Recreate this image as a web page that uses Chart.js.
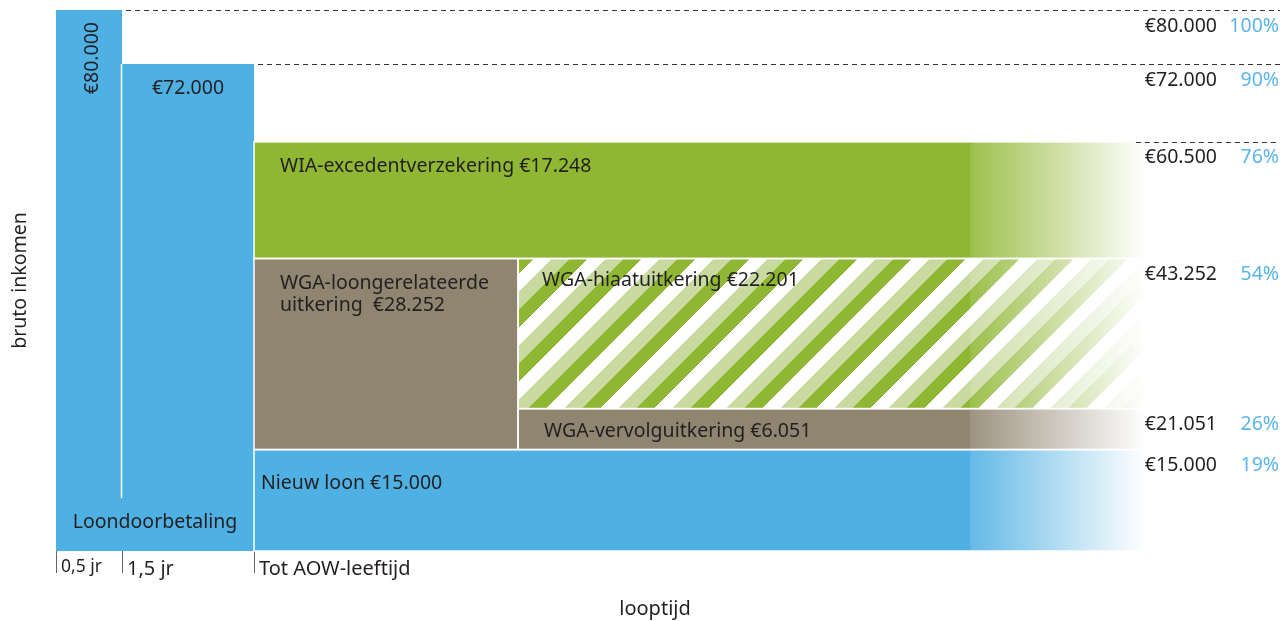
<!DOCTYPE html>
<html lang="nl">
<head>
<meta charset="utf-8">
<title>Bruto inkomen bij arbeidsongeschiktheid</title>
<script src="https://cdn.jsdelivr.net/npm/chart.js@4.4.1/dist/chart.umd.min.js"></script>
<style>
  html, body { margin: 0; padding: 0; background: #fff; }
  #wrap { width: 1283px; height: 621px; position: relative; }
</style>
</head>
<body>
<div id="wrap"><canvas id="incomeChart"></canvas></div>
<script>
// periods on the x axis (schematic, not to scale)
const periodLabels = ['0,5 jr', '1,5 jr', 'Tot AOW-leeftijd'];
const periodStart = [0, 1, 3];
const groupLabel = 'Loondoorbetaling';

// income blocks
const blockNames  = ['', '', 'Nieuw loon', 'WGA-loongerelateerde\nuitkering ', 'WGA-vervolguitkering', 'WGA-hiaatuitkering', 'WIA-excedentverzekering'];
const blockAmount = [80000, 72000, 15000, 28252, 6051, 22201, 17248];
const blockFrom   = [0, 1, 3, 3, 7, 7, 3];
const blockTo     = [1, 3, 16.5, 7, 16.5, 16.5, 16.5];
const blockLow    = [0, 0, 0, 15000, 15000, 21051, 43252];
const blockHigh   = [80000, 72000, 15000, 43252, 21051, 43252, 60500];

// levels listed on the right
const levelValues  = [80000, 72000, 60500, 43252, 21051, 15000];
const levelPercent = [100, 90, 76, 54, 26, 19];

// styling
const BLUE = '#4FB0E3', GREEN = '#8FB733', BROWN = '#908570', LIGHT = '#C8DA9F';
const TEXT = '#231F20', PCT = '#5BB5E8';
const FONT = '"Noto Sans", sans-serif';
const LABEL_FONT = '19.5px ' + FONT;
const fadeFrom = 13.85, fadeTo = 16.5, xMax = 18.15;
const dashFrom = [1, 3, 16.3];   // where the dashed guide of levelValues[i] starts

const canvas = document.getElementById('incomeChart');

function makeHatch() {
    const P = 54, c = document.createElement('canvas');
    c.width = P; c.height = P;
    const g = c.getContext('2d');
    const img = g.createImageData(P, P);
    const bands = [[200, 218, 159], [143, 183, 51], [255, 255, 255]];
    for (let y = 0; y < P; y++) {
        for (let x = 0; x < P; x++) {
            const b = bands[Math.floor(((x + y) % P) / (P / 3))];
            const k = (y * P + x) * 4;
            img.data[k] = b[0]; img.data[k + 1] = b[1]; img.data[k + 2] = b[2]; img.data[k + 3] = 255;
        }
    }
    g.putImageData(img, 0, 0);
    return canvas.getContext('2d').createPattern(c, 'repeat');
}
const blockFill = [BLUE, BLUE, BLUE, BROWN, BROWN, makeHatch(), GREEN];

function euro(n) {
    return '€' + String(n).replace(/\B(?=(\d{3})+(?!\d))/g, '.');
}

const overlayPlugin = {
    id: 'overlay',
    afterDatasetsDraw(chart) {
        const {ctx, chartArea: area, scales: {x, y}} = chart;
        const W = chart.width;
        ctx.save();

        // white separators between the blocks
        ctx.strokeStyle = '#ffffff';
        ctx.lineWidth = 1.5;
        for (let i = 2; i < blockNames.length; i++) {
            const l = x.getPixelForValue(blockFrom[i]), r = x.getPixelForValue(blockTo[i]);
            const t = y.getPixelForValue(blockHigh[i]), b = y.getPixelForValue(blockLow[i]);
            ctx.strokeRect(l, t, r - l, b - t);
        }
        const sx = Math.round(x.getPixelForValue(periodStart[1])) - 0.5;
        ctx.beginPath();
        ctx.moveTo(sx, y.getPixelForValue(blockHigh[1]));
        ctx.lineTo(sx, area.bottom - 53);
        ctx.stroke();

        // fade towards the right
        const f0 = x.getPixelForValue(fadeFrom), f1 = x.getPixelForValue(fadeTo);
        const grad = ctx.createLinearGradient(f0, 0, f1, 0);
        grad.addColorStop(0, 'rgba(255,255,255,0.12)');
        grad.addColorStop(1, 'rgba(255,255,255,1)');
        ctx.fillStyle = grad;
        ctx.fillRect(f0, area.top, f1 - f0 + 2, area.bottom - area.top);

        // dashed guides
        ctx.strokeStyle = '#333';
        ctx.lineWidth = 1;
        ctx.setLineDash([5, 4]);
        dashFrom.forEach((from, i) => {
            const py = Math.round(y.getPixelForValue(levelValues[i])) + 0.5;
            ctx.beginPath();
            ctx.moveTo(x.getPixelForValue(from) + 4, py);
            ctx.lineTo(W - 3, py);
            ctx.stroke();
        });
        ctx.setLineDash([]);

        // level values and percentages on the right
        ctx.font = LABEL_FONT;
        ctx.textBaseline = 'middle';
        ctx.textAlign = 'right';
        levelValues.forEach((v, i) => {
            const py = y.getPixelForValue(v) + 16;
            ctx.fillStyle = TEXT;
            ctx.fillText(euro(v), W - 66, py);
            ctx.fillStyle = PCT;
            ctx.fillText(levelPercent[i] + '%', W - 4, py);
        });

        // block labels
        ctx.fillStyle = TEXT;
        blockNames.forEach((name, i) => {
            const l = x.getPixelForValue(blockFrom[i]), r = x.getPixelForValue(blockTo[i]);
            const t = y.getPixelForValue(blockHigh[i]), b = y.getPixelForValue(blockLow[i]);
            const lines = ((name ? name + ' ' : '') + euro(blockAmount[i])).split('\n');
            if (i === 0) {
                ctx.save();
                ctx.translate((l + r) / 2 + 3, t + 12);
                ctx.rotate(-Math.PI / 2);
                ctx.textAlign = 'right';
                ctx.fillText(lines[0], 0, 0);
                ctx.restore();
                return;
            }
            if (i === 1) {
                ctx.textAlign = 'center';
                ctx.fillText(lines[0], (l + r) / 2, t + 24);
                return;
            }
            ctx.textAlign = 'left';
            let px = l + 26, py = t + 25;
            if (i === 2) { px = l + 7; py = t + 34; }
            if (i === 4) { py = (t + b) / 2 + 2; }
            if (i === 5) { px = l + 24; py = t + 22; }
            lines.forEach((s, k) => ctx.fillText(s, px, py + k * 22));
        });

        ctx.textAlign = 'center';
        ctx.fillText(groupLabel, (x.getPixelForValue(periodStart[0]) + x.getPixelForValue(periodStart[2])) / 2, area.bottom - 29);
        ctx.restore();
    }
};

Chart.defaults.font.family = FONT;
Chart.defaults.color = TEXT;

new Chart(canvas, {
    type: 'line',
    data: {
        datasets: blockNames.map((name, i) => ({
            label: name || groupLabel,
            data: [{x: blockFrom[i], y: blockHigh[i]}, {x: blockTo[i], y: blockHigh[i]}],
            fill: {value: blockLow[i]},
            backgroundColor: blockFill[i],
            borderColor: 'rgba(0,0,0,0)',
            borderWidth: 0,
            pointRadius: 0,
            tension: 0
        }))
    },
    options: {
        responsive: true,
        maintainAspectRatio: false,
        animation: false,
        layout: { padding: { top: 10, right: 29, left: 0, bottom: 0 } },
        plugins: {
            legend: { display: false },
            tooltip: { enabled: false }
        },
        scales: {
            x: {
                type: 'linear',
                min: 0,
                max: xMax,
                afterBuildTicks: scale => { scale.ticks = periodStart.map(v => ({ value: v })); },
                ticks: {
                    autoSkip: false,
                    maxRotation: 0,
                    align: 'start',
                    labelOffset: 5,
                    padding: -16,
                    color: TEXT,
                    font: ctx => ({ size: ctx.index === 0 ? 17.5 : 20 }),
                    callback: (v, i) => periodLabels[i]
                },
                grid: { drawOnChartArea: false, drawTicks: true, tickLength: 22, color: '#666', lineWidth: 1 },
                border: { display: false },
                title: { display: true, text: 'looptijd', color: TEXT, font: { size: 20 }, padding: { top: 32, bottom: 0 } }
            },
            y: {
                type: 'linear',
                min: 0,
                max: 80000,
                ticks: { display: false },
                grid: { display: false, drawTicks: false },
                border: { display: false },
                title: { display: true, text: 'bruto inkomen', color: TEXT, font: { size: 19.5 }, padding: { top: 8.3, bottom: 24.3 } }
            }
        }
    },
    plugins: [overlayPlugin]
});
</script>
</body>
</html>
